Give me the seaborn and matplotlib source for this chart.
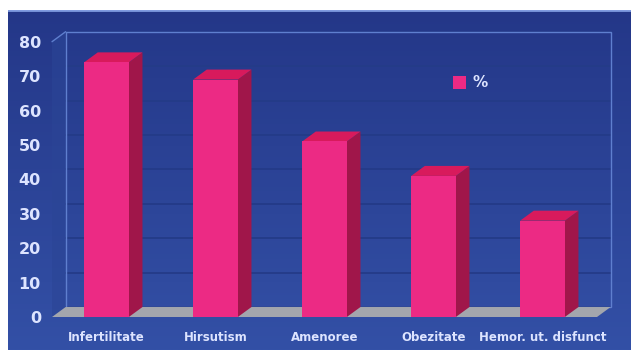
import numpy as np
import pandas as pd
import matplotlib
matplotlib.use("Agg")
import matplotlib.pyplot as plt
import seaborn as sns
from matplotlib.patches import Polygon, Patch

categories = ["Infertilitate", "Hirsutism", "Amenoree", "Obezitate", "Hemor. ut. disfunct"]
values = [74, 69, 51, 41, 28]
series_name = "%"
yticks = [0, 10, 20, 30, 40, 50, 60, 70, 80]

df = pd.DataFrame({"cat": categories, "val": values})

sns.set_theme(style="white")
plt.rcParams['font.family'] = ['DejaVu Sans']

W, H = 631, 350
fig = plt.figure(figsize=(W / 100, H / 100), dpi=100)
fig.patch.set_facecolor("white")

# background panel with vertical gradient
bg = fig.add_axes([8 / W, 0, (W - 8) / W, (H - 10) / H])
grad = np.linspace(0, 1, 256).reshape(-1, 1)
top_c = np.array([0x24, 0x37, 0x88]) / 255
bot_c = np.array([0x33, 0x50, 0xa6]) / 255
img = top_c[None, None, :] * (1 - grad[:, :, None]) + bot_c[None, None, :] * grad[:, :, None]
bg.imshow(img, aspect="auto", extent=[0, 1, 0, 1])
bg.axhline(1, color="#7f9be0", lw=2)
bg.set_axis_off()
bg.set_zorder(0)

# main axes (front plane)
x0px, x1px = 52, 597
y0px, y1px = 317, 41.7
ax = fig.add_axes([x0px / W, (H - y0px) / H, (x1px - x0px) / W, (y0px - y1px) / H])
ax.set_zorder(1)
ax.patch.set_alpha(0)

front_c = "#ec2a84"
side_c = "#a0164a"
top_face_c = "#d81a5c"

sns.barplot(data=df, x="cat", y="val", color=front_c, width=0.41,
            saturation=1, ax=ax, zorder=5, linewidth=0, edgecolor="none")
ax.set_xlim(-0.5, 4.5)
ax.set_ylim(0, 80)

dx, dy = 0.125, 2.9
xl, xr = -0.5, 4.5
ymax = 80

# back wall outline & gridlines
for v in yticks:
    ax.plot([xl + dx, xr + dx], [v + dy, v + dy], color="#243b88", lw=1.3,
            zorder=1, clip_on=False)
ax.add_patch(Polygon([(xl + dx, dy), (xr + dx, dy), (xr + dx, ymax + dy), (xl + dx, ymax + dy)],
                     closed=True, fill=False, edgecolor="#5f7fcf", lw=1, zorder=1, clip_on=False))
# left wall
ax.add_patch(Polygon([(xl, 0), (xl + dx, dy), (xl + dx, ymax + dy), (xl, ymax)],
                     closed=True, facecolor="#2b4596", edgecolor="none", alpha=0.6, zorder=0.5, clip_on=False))
ax.plot([xl, xl + dx], [ymax, ymax + dy], color="#5f7fcf", lw=1, zorder=1, clip_on=False)
# floor
ax.add_patch(Polygon([(xl, 0), (xr, 0), (xr + dx, dy), (xl + dx, dy)],
                     closed=True, facecolor="#a3a6ad", edgecolor="none", zorder=2, clip_on=False))

# 3D sides and tops of bars
for p in list(ax.patches):
    if not hasattr(p, "get_width") or p.get_height() <= 0 or p.get_width() > 1:
        continue
    bx, bw, bh = p.get_x(), p.get_width(), p.get_height()
    ax.add_patch(Polygon([(bx + bw, 0), (bx + bw + dx, dy), (bx + bw + dx, bh + dy), (bx + bw, bh)],
                         closed=True, facecolor=side_c, edgecolor="none", zorder=4, clip_on=False))
    ax.add_patch(Polygon([(bx, bh), (bx + bw, bh), (bx + bw + dx, bh + dy), (bx + dx, bh + dy)],
                         closed=True, facecolor=top_face_c, edgecolor="none", zorder=4, clip_on=False))

for s in ax.spines.values():
    s.set_visible(False)
ax.set_xlabel("")
ax.set_ylabel("")
ax.set_yticks(yticks)
ax.set_yticklabels([str(v) for v in yticks], fontsize=11.5, fontweight="bold", color="#dde4ff")
ax.tick_params(axis="y", length=0, pad=8)
ax.tick_params(axis="x", length=0, pad=10)
for lab in ax.get_xticklabels():
    lab.set_fontsize(8.5)
    lab.set_fontweight("bold")
    lab.set_color("#dde4ff")

ax.legend(handles=[Patch(facecolor=front_c, edgecolor="none", label=series_name)],
          loc="center left", bbox_to_anchor=(0.71, 0.85), frameon=False,
          handlelength=0.9, handleheight=0.9, handletextpad=0.4,
          prop={"weight": "bold", "size": 11}, labelcolor="#dde4ff")

fig.savefig("out.png", dpi=100, facecolor=fig.get_facecolor())
